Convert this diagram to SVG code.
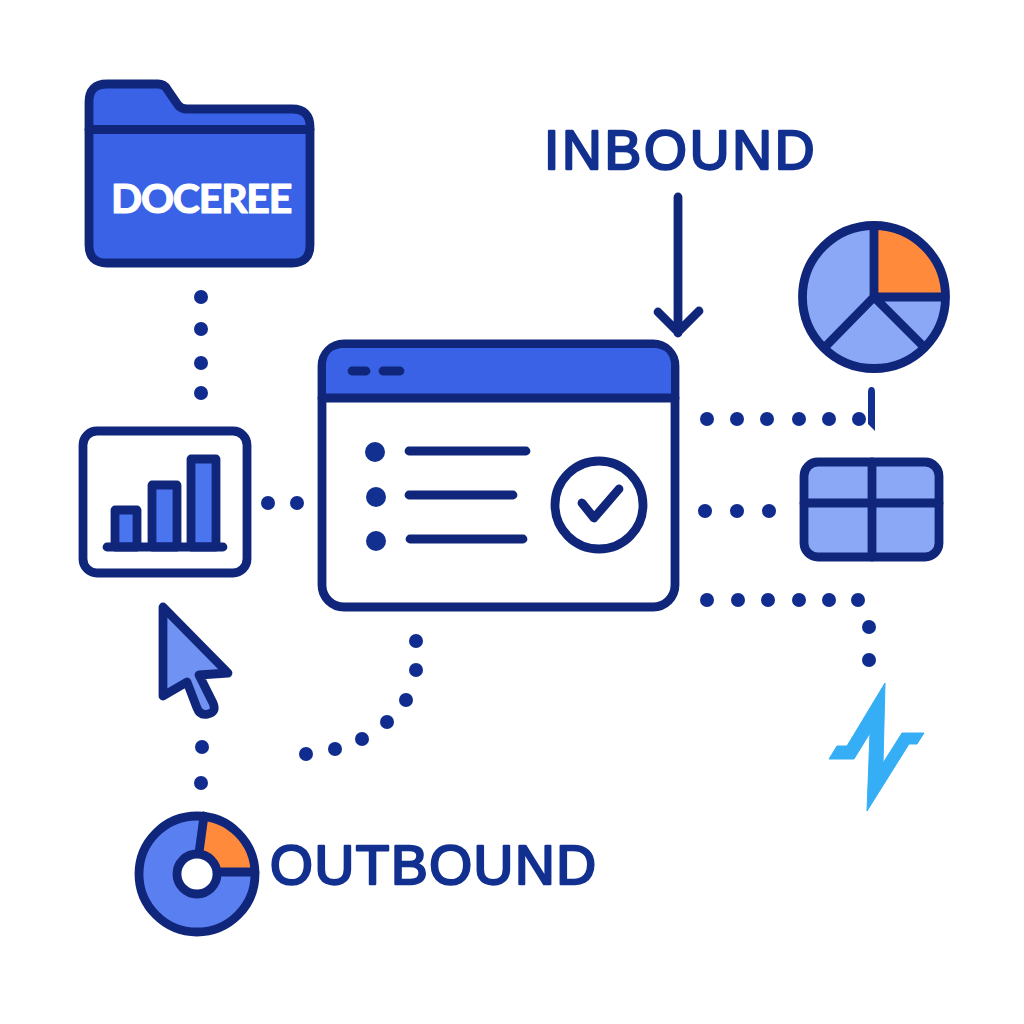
<svg xmlns="http://www.w3.org/2000/svg" width="1024" height="1024" viewBox="0 0 1024 1024">
<style>
.o{stroke:#10267a;stroke-width:8.800;stroke-linejoin:round;stroke-linecap:round}
.l{fill:none;stroke:#10267a;stroke-width:8.800;stroke-linejoin:round;stroke-linecap:round}
.d{fill:#0f2c8e}
.big{font-family:"Liberation Sans",Arial,sans-serif;font-size:55px;fill:#12308f;stroke:#12308f;stroke-width:2.400;stroke-linejoin:round}
</style>
<rect width="1024" height="1024" fill="#fff"/>
<g id="connectors">
<g class="d">
<circle cx="201" cy="297" r="7"/><circle cx="201" cy="329" r="7"/><circle cx="201" cy="363" r="7"/><circle cx="201" cy="393" r="7"/>
<circle cx="268" cy="503" r="7"/><circle cx="297" cy="503" r="7"/>
<circle cx="202" cy="747" r="7"/><circle cx="201" cy="783" r="7"/>
<circle cx="416" cy="641" r="7"/><circle cx="416" cy="670" r="7"/><circle cx="406" cy="700" r="7"/><circle cx="387" cy="722" r="7"/><circle cx="362" cy="739" r="7"/><circle cx="335" cy="749" r="7"/><circle cx="306" cy="754" r="7"/>
<circle cx="707" cy="419" r="7"/><circle cx="737" cy="419" r="7"/><circle cx="767" cy="419" r="7"/><circle cx="799" cy="419" r="7"/><circle cx="829" cy="419" r="7"/><circle cx="859" cy="419" r="7"/>
<circle cx="705" cy="511" r="7"/><circle cx="737" cy="511" r="7"/><circle cx="769" cy="511" r="7"/>
<circle cx="707" cy="600" r="7"/><circle cx="738" cy="600" r="7"/><circle cx="768" cy="600" r="7"/><circle cx="799" cy="600" r="7"/><circle cx="829" cy="600" r="7"/><circle cx="858" cy="600" r="7"/><circle cx="869" cy="627" r="7"/><circle cx="869" cy="660" r="7"/>
</g>
<path d="M868 392Q868 387 871.500 387Q875 387 875 392L875 431L868 424Z" fill="#12308f"/>
<path class="l" d="M678 197V333M658 312L678 332L699 311"/>
</g>
<g id="folder">
<path class="o" fill="#3a62e6" d="M89 102Q89 84 107 84H158Q164 84 167 89L178 105Q181 109 187 109H292Q310 109 310 127V245Q310 263 292 263H107Q89 263 89 245Z"/>
<path class="l" d="M89 129.500H310"/>
<text x="201" y="213" text-anchor="middle" font-family="Lato,'Liberation Sans',sans-serif" font-weight="700" font-size="41" letter-spacing="-1.200" fill="#fff" stroke="#fff" stroke-width="1.200" stroke-linejoin="round">DOCEREE</text>
</g>
<g id="inbound-label"><text class="big" x="544" y="169" letter-spacing="2.800">INBOUND</text></g>
<g id="window">
<rect class="o" x="322" y="344" width="353" height="263" rx="22" fill="#fff"/>
<path fill="#3a62e6" d="M326 394V366Q326 348 344 348H653Q671 348 671 366V394Z"/>
<path class="l" d="M322 398H675M352 371H366M383 371H400M409 451H526M409 495H513M410 539H523"/>
<g fill="#12308f"><circle cx="375" cy="452" r="10"/><circle cx="376" cy="497" r="10"/><circle cx="376" cy="541" r="10"/></g>
<circle class="l" cx="599" cy="505" r="44"/>
<path class="l" d="M582 503L594 518L619 489"/>
</g>
<g id="chart">
<rect class="o" x="83" y="431" width="164" height="142" rx="14" fill="#fff"/>
<g class="o" fill="#4b74ef"><rect x="115" y="510" width="22" height="37"/><rect x="152" y="485" width="25" height="62"/><rect x="191" y="459" width="25" height="88"/></g>
<path class="l" d="M107 547H223"/>
</g>
<g id="pie">
<circle cx="874" cy="297" r="71.500" fill="#8aa8f6"/>
<path fill="#ff8a3c" d="M874 226A71 71 0 0 1 945 297H874Z"/>
<circle class="l" cx="874" cy="297" r="71.500"/>
<path class="l" d="M874 226V297H945M874 297L827 345M874 297L922 345"/>
</g>
<g id="table">
<rect class="o" x="804" y="462" width="135" height="95" rx="14" fill="#8aa8f6"/>
<path class="l" d="M872 462V557M804 503H939"/>
</g>
<g id="cursor">
<path class="o" fill="#7093f3" d="M163 607L228 673L199 675L213 703Q217 712 208 714Q200 716 197 708L187 682L163 696Z"/>
</g>
<g id="donut">
<circle cx="197" cy="874" r="58" fill="#5a7ff0"/>
<path fill="#ff8a3c" d="M204 816A58 58 0 0 1 255 873H197Z"/>
<circle class="l" cx="197" cy="874" r="58"/>
<path class="l" d="M204 816L198 860M255 872H216"/>
<circle class="o" cx="197" cy="874" r="20" fill="#fff"/>
</g>
<g id="outbound-label"><text class="big" x="270" y="884" letter-spacing="1.600">OUTBOUND</text></g>
<g id="bolt"><path fill="#35aef5" stroke="#35aef5" stroke-width="1" d="M885 683L847 746H837L829 759H854L870 733L867 811L909 744H917L924 733H902L883 763Z"/></g>
</svg>
